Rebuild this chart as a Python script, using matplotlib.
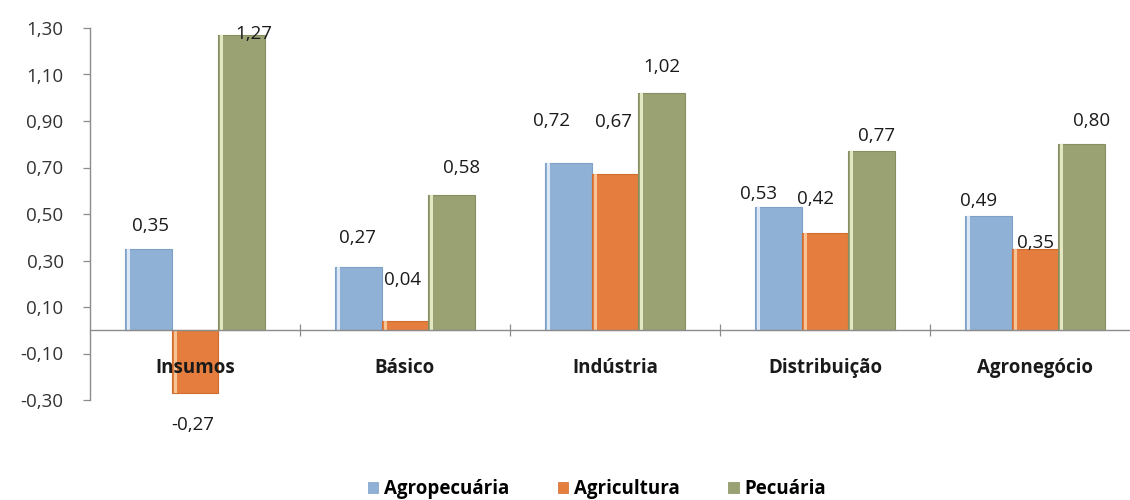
import matplotlib
matplotlib.use("Agg")
import matplotlib.pyplot as plt
from matplotlib.patches import Patch
from matplotlib.ticker import FixedLocator, FuncFormatter
import numpy as np

# Dados
categorias = ["Insumos", "Básico", "Indústria", "Distribuição", "Agronegócio"]
series = ["Agropecuária", "Agricultura", "Pecuária"]
agropecuaria = [0.35, 0.27, 0.72, 0.53, 0.49]
agricultura = [-0.27, 0.04, 0.67, 0.42, 0.35]
pecuaria = [1.27, 0.58, 1.02, 0.77, 0.80]
valores = [agropecuaria, agricultura, pecuaria]
y_ticks = [-0.30, -0.10, 0.10, 0.30, 0.50, 0.70, 0.90, 1.10, 1.30]

# Estilo
cores = ["#8FB1D6", "#E47D3D", "#9AA273"]
cores_brilho = ["#DCE8F5", "#F8C495", "#E3E8C2"]
cores_borda = ["#7E9FC6", "#D06C30", "#878F62"]
# deslocamento dos rótulos (px) em relação ao topo de cada barra
desloc = [
    [(2, 23), (-1, 29), (-17, 42), (-20, 13), (-10, 15)],
    [(-2, -32), (-2, 41), (-2, 52), (-10, 34), (1, 6)],
    [(12, 1), (10, 27), (0, 26), (5, 15), (10, 23)],
]

plt.rcParams["font.family"] = ["Open Sans", "DejaVu Sans"]
fig = plt.figure(figsize=(11.3, 5.0), dpi=100)
ax = fig.add_axes([90 / 1130, 0.2, 1050 / 1130, 0.744])
ax.set_axisbelow(False)

x = np.arange(len(categorias))
w = 0.222
for i, (vals, c) in enumerate(zip(valores, cores)):
    pos = x + (i - 1) * w
    ax.bar(pos, vals, w, color=c, edgecolor=cores_borda[i], linewidth=0.8,
           zorder=2)
    # reflexo claro na lateral esquerda
    ax.bar(pos - w / 2 + 0.016, vals, 0.014, color=cores_brilho[i],
           linewidth=0, zorder=2.1)
    for j, v in enumerate(vals):
        dx, dy = desloc[i][j]
        ax.annotate(f"{v:.2f}".replace(".", ","), (pos[j], v),
                    xytext=(dx, dy), textcoords="offset pixels",
                    ha="center", va="center", fontsize=13.5,
                    color="#1a1a1a", zorder=4)

ax.set_xlim(-0.5, 4.5)
ax.set_ylim(-0.30, 1.30)

# eixo Y
ax.yaxis.set_major_locator(FixedLocator(y_ticks))
ax.yaxis.set_major_formatter(FuncFormatter(lambda v, p: f"{v:.2f}".replace(".", ",")))
ax.tick_params(axis="y", direction="out", length=5, width=0.9, color="#8c8c8c",
               pad=14, labelsize=13.5, labelcolor="#333333")

# eixo X cruzando em zero
ax.spines["bottom"].set_position(("data", 0))
ax.set_xticks(x)
ax.set_xticklabels(categorias, fontweight="bold", fontsize=13.5, color="#1a1a1a")
ax.set_xticks(np.arange(0.5, 4.5, 1.0), minor=True)
ax.tick_params(axis="x", which="major", length=0, pad=20)
ax.tick_params(axis="x", which="minor", direction="inout", length=9,
               width=0.9, color="#8c8c8c")

for s in ["top", "right"]:
    ax.spines[s].set_visible(False)
for s in ["left", "bottom"]:
    ax.spines[s].set_color("#8c8c8c")
    ax.spines[s].set_linewidth(1.0)

handles = [Patch(facecolor=c, edgecolor=b, linewidth=0.5) for c, b in zip(cores, cores_borda)]
fig.legend(handles, series, loc="center", bbox_to_anchor=(597 / 1130, 0.022),
           ncol=3, frameon=False, handlelength=0.55, handleheight=0.55,
           handletextpad=0.3, columnspacing=2.6,
           prop={"weight": "bold", "size": 13.5})

fig.savefig("out.png", dpi=100)
